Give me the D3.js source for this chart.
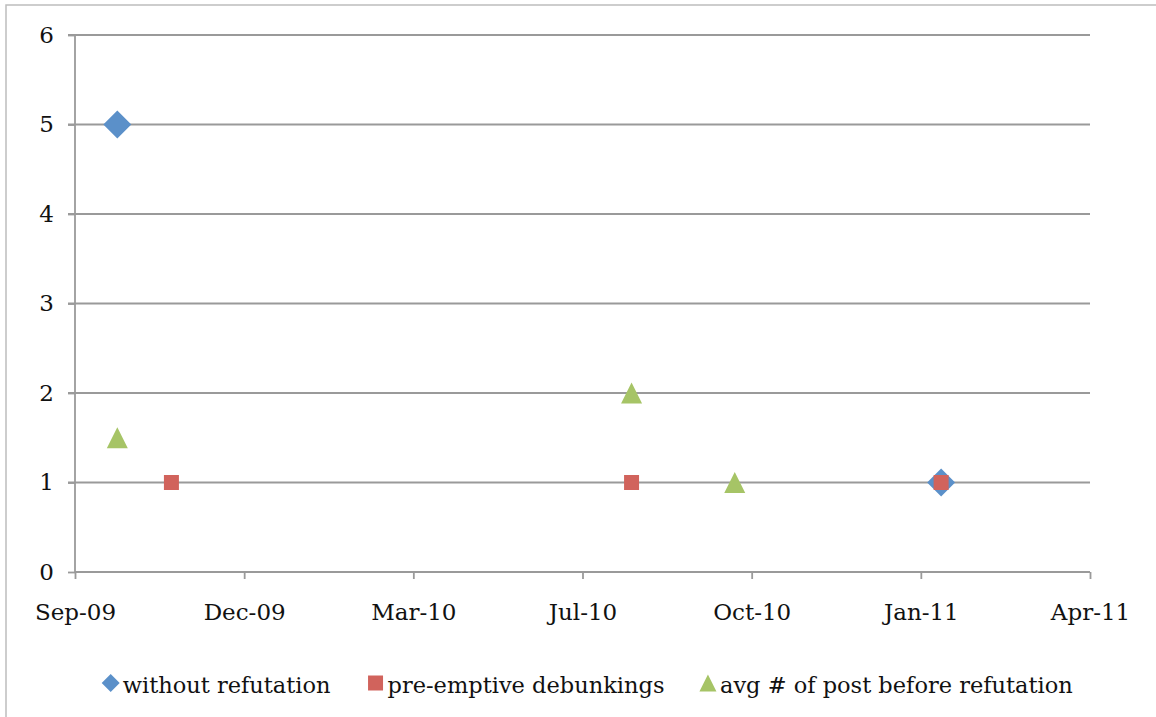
<!DOCTYPE html>
<html>
<head>
<meta charset="utf-8">
<script src="https://cdn.jsdelivr.net/npm/d3@7"></script>
<style>
  body { margin: 0; background: #fff; overflow: hidden; }
  svg text { font-family: 'DejaVu Serif'; }
</style>
</head>
<body>
<div id="canvas"></div>
<script>
// chart data (dates)
var seriesNames = ['without refutation', 'pre-emptive debunkings', 'avg # of post before refutation'];
var withoutDates = ['2009-09-29', '2011-01-29'];
var withoutValues = [5, 1];
var preemptiveDates = ['2009-10-31', '2010-07-30', '2011-01-29'];
var preemptiveValues = [1, 1, 1];
var avgDates = ['2009-09-29', '2010-07-30', '2010-09-29'];
var avgValues = [1.5, 2, 1];
var yTicks = [0, 1, 2, 3, 4, 5, 6];

var cv = { width: 1156, height: 717, left: 75, right: 1090, top: 35, bottom: 572 };

var parse = d3.timeParse('%Y-%m-%d');
var xStart = parse('2009-09-04');
var xTicks = d3.range(0, 7).map(i => d3.timeDay.offset(xStart, i * 100));

var x = d3.scaleTime()
  .domain([xStart, xTicks[6]])
  .range([cv.left, cv.right]);

var y = d3.scaleLinear()
  .domain([0, 6])
  .range([cv.bottom, cv.top]);

var svg = d3.select('#canvas').append('svg')
  .attr('width', cv.width)
  .attr('height', cv.height)
  .style('display', 'block');

// outer chart border (right and bottom edges fall outside the picture)
svg.append('rect')
  .attr('x', 6).attr('y', 5)
  .attr('width', cv.width + 20).attr('height', cv.height + 20)
  .attr('fill', 'none')
  .attr('stroke', '#bdbdbd')
  .attr('stroke-width', 1.5);

var gridColor = '#9a9a9a';

// gridlines
svg.selectAll('.grid')
  .data(yTicks.filter(d => d > 0))
  .enter().append('line')
  .attr('class', 'grid')
  .attr('x1', cv.left - 7).attr('x2', cv.right)
  .attr('y1', d => y(d)).attr('y2', d => y(d))
  .attr('stroke', gridColor)
  .attr('stroke-width', 1.8);

// y axis
var yAxis = svg.append('g')
  .attr('transform', 'translate(' + cv.left + ',0)')
  .call(d3.axisLeft(y).tickValues(yTicks).tickSize(7).tickPadding(14).tickFormat(d3.format('d')));

// x axis
var xAxis = svg.append('g')
  .attr('transform', 'translate(0,' + cv.bottom + ')')
  .call(d3.axisBottom(x).tickValues(xTicks).tickSize(7).tickPadding(25)
    .tickFormat(d3.timeFormat('%b-%y')));

[yAxis, xAxis].forEach(function(g) {
  g.attr('font-family', null).attr('font-size', null);
  g.select('.domain').attr('stroke', gridColor).attr('stroke-width', 1.8);
  g.selectAll('.tick line').attr('stroke', gridColor).attr('stroke-width', 1.8);
  g.selectAll('.tick text')
    .style('font-size', '23px')
    .attr('fill', '#111');
});
xAxis.select('.domain').attr('d', 'M' + (cv.left) + ',0H' + cv.right);
yAxis.select('.domain').attr('d', 'M0,' + cv.top + 'V' + cv.bottom);

// excel style markers
var diamond = { draw: function(ctx, size) { var r = Math.sqrt(size) / 2; ctx.moveTo(0, -r); ctx.lineTo(r, 0); ctx.lineTo(0, r); ctx.lineTo(-r, 0); ctx.closePath(); } };
var triangle = { draw: function(ctx, size) { var r = Math.sqrt(size) / 2; ctx.moveTo(0, -r); ctx.lineTo(r, r); ctx.lineTo(-r, r); ctx.closePath(); } };

var colors = ['#5b90c9', '#d1635c', '#a6c466'];
var shapes = [diamond, d3.symbolSquare, triangle];
var sizes = [28 * 28, 15 * 15, 21 * 21];

var series = [
  { dates: withoutDates, values: withoutValues },
  { dates: preemptiveDates, values: preemptiveValues },
  { dates: avgDates, values: avgValues }
];

series.forEach(function(s, i) {
  var pts = s.dates.map((d, j) => ({ date: parse(d), value: s.values[j] }));
  svg.selectAll('.pt' + i)
    .data(pts)
    .enter().append('path')
    .attr('class', 'pt' + i)
    .attr('d', d3.symbol().type(shapes[i]).size(sizes[i]))
    .attr('transform', d => 'translate(' + x(d.date) + ',' + y(d.value) + ')')
    .attr('fill', colors[i]);
});

// legend
var legend = svg.append('g');
var legendSizes = [18 * 18, 15 * 15, 17 * 17];
var items = legend.selectAll('.item')
  .data(seriesNames)
  .enter().append('g')
  .attr('class', 'item');
items.append('path')
  .attr('d', (d, i) => d3.symbol().type(shapes[i]).size(legendSizes[i])())
  .attr('fill', (d, i) => colors[i]);
items.append('text')
  .attr('x', 12)
  .attr('y', 10)
  .style('font-size', '22.5px')
  .attr('fill', '#111')
  .text(d => d);

var widths = [];
items.each(function() { widths.push(this.getBBox().width); });
var gap = 36;
var total = d3.sum(widths) + gap * (widths.length - 1);
var pos = 587 - total / 2 + 9;
items.attr('transform', function(d, i) {
  var t = 'translate(' + pos + ',683)';
  pos += widths[i] + gap;
  return t;
});
</script>
</body>
</html>
